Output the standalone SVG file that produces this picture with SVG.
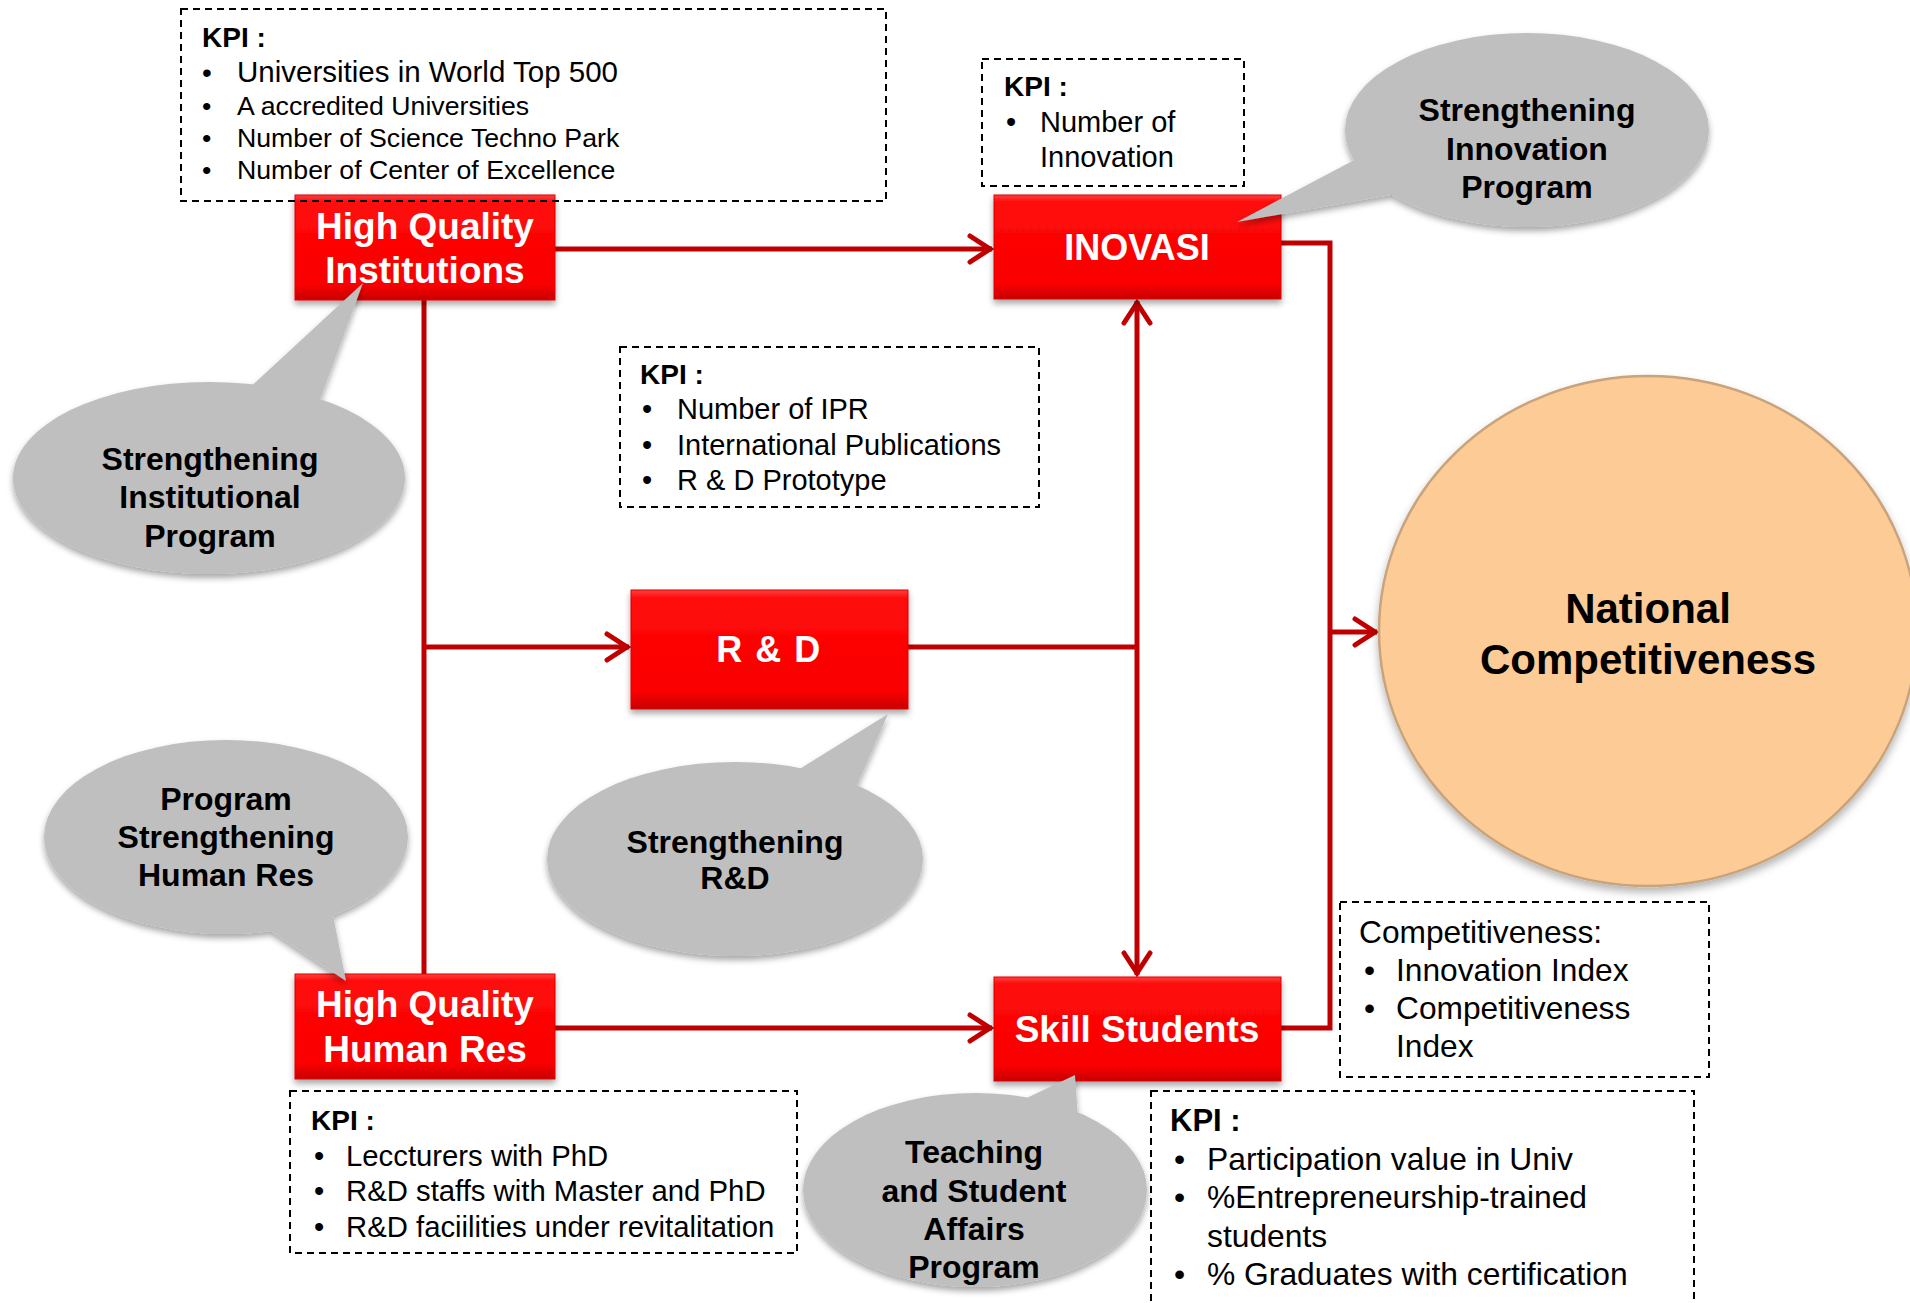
<svg xmlns="http://www.w3.org/2000/svg" width="1910" height="1303" viewBox="0 0 1910 1303">
<defs>
<style>
.kpi{fill:none;stroke:#000;stroke-width:2;stroke-dasharray:7 5}
.t{font-family:"Liberation Sans",Arial,sans-serif;fill:#000}
.b{font-weight:bold}
.bt{font-family:"Liberation Sans",Arial,sans-serif;font-weight:bold;fill:#fff;text-anchor:middle}
.bub{fill:#BFBFBF}
.bubt{font-family:"Liberation Sans",Arial,sans-serif;font-weight:bold;font-size:32px;fill:#000;text-anchor:middle}
.con{fill:none;stroke:#C00000;stroke-width:5}
.box{fill:url(#red);stroke:#E00000;stroke-width:1}
</style>
<linearGradient id="red" x1="0" y1="0" x2="0" y2="1">
<stop offset="0" stop-color="#FF4040"/>
<stop offset="0.07" stop-color="#FF0A0A"/>
<stop offset="0.85" stop-color="#FA0000"/>
<stop offset="1" stop-color="#C80000"/>
</linearGradient>
<filter id="sh" x="-20%" y="-20%" width="140%" height="150%">
<feDropShadow dx="0" dy="4" stdDeviation="3" flood-color="#000" flood-opacity="0.35"/>
</filter>
<filter id="sh2" x="-20%" y="-20%" width="140%" height="150%">
<feDropShadow dx="0" dy="5" stdDeviation="4" flood-color="#000" flood-opacity="0.3"/>
</filter>
<marker id="arr" viewBox="-26 -16 30 32" refX="0" refY="0" markerWidth="30" markerHeight="32" markerUnits="userSpaceOnUse" orient="auto-start-reverse">
<path d="M-22,-13 L-2,0 L-22,13" fill="none" stroke="#C00000" stroke-width="5" stroke-linecap="round"/>
</marker>
</defs>
<rect width="1910" height="1303" fill="#fff"/>

<g id="connectors">
<path class="con" d="M555 249 H992" marker-end="url(#arr)"/>
<path class="con" d="M1281 243 H1330 V1028 H1281"/>
<path class="con" d="M1330 632 H1377" marker-end="url(#arr)"/>
<path class="con" d="M424 300 V974"/>
<path class="con" d="M424 647 H629" marker-end="url(#arr)"/>
<path class="con" d="M908 647 H1137"/>
<path class="con" d="M1137 301 V975" marker-start="url(#arr)" marker-end="url(#arr)"/>
<path class="con" d="M555 1028 H992" marker-end="url(#arr)"/>
</g>

<g id="national-competitiveness">
<ellipse cx="1648" cy="631" rx="269" ry="255" fill="#FCCB96" stroke="#C9A37C" stroke-width="2.5" filter="url(#sh2)"/>
<text class="t b" x="1648" y="623" font-size="42" text-anchor="middle">National</text>
<text class="t b" x="1648" y="674" font-size="42" text-anchor="middle">Competitiveness</text>
</g>

<g id="hq-institutions">
<rect class="box" x="295" y="195" width="260" height="105" filter="url(#sh)"/>
<text class="bt" x="425" y="239" font-size="37">High Quality</text>
<text class="bt" x="425" y="283" font-size="37">Institutions</text>
</g>

<g id="inovasi">
<rect class="box" x="994" y="195" width="287" height="104" filter="url(#sh)"/>
<text class="bt" x="1137" y="260" font-size="36">INOVASI</text>
</g>

<g id="rnd">
<rect class="box" x="631" y="590" width="277" height="119" filter="url(#sh)"/>
<text class="bt" x="769" y="662" font-size="36" letter-spacing="1.5">R &amp; D</text>
</g>

<g id="hq-human-res">
<rect class="box" x="295" y="974" width="260" height="105" filter="url(#sh)"/>
<text class="bt" x="425" y="1017" font-size="37">High Quality</text>
<text class="bt" x="425" y="1062" font-size="37">Human Res</text>
</g>

<g id="skill-students">
<rect class="box" x="994" y="977" width="287" height="104" filter="url(#sh)"/>
<text class="bt" x="1137" y="1042" font-size="37">Skill Students</text>
</g>

<g id="kpi-institutions">
<rect class="kpi" x="181" y="9" width="705" height="192"/>
<text class="t b" x="202" y="47" font-size="28">KPI :</text>
<text class="t" x="202" y="82" font-size="28">•</text>
<text class="t" x="237" y="82" font-size="29.5">Universities in World Top 500</text>
<text class="t" x="202" y="115" font-size="26.7">•</text>
<text class="t" x="237" y="115" font-size="26.7">A accredited Universities</text>
<text class="t" x="202" y="147" font-size="26.7">•</text>
<text class="t" x="237" y="147" font-size="26.7">Number of Science Techno Park</text>
<text class="t" x="202" y="179" font-size="26.7">•</text>
<text class="t" x="237" y="179" font-size="26.7">Number of Center of Excellence</text>
</g>

<g id="kpi-inovasi">
<rect class="kpi" x="982" y="59" width="262" height="127"/>
<text class="t b" x="1004" y="96" font-size="28">KPI :</text>
<text class="t" x="1006" y="132" font-size="29">•</text>
<text class="t" x="1040" y="132" font-size="29">Number of</text>
<text class="t" x="1040" y="167" font-size="29">Innovation</text>
</g>

<g id="kpi-rnd">
<rect class="kpi" x="620" y="347" width="419" height="160"/>
<text class="t b" x="640" y="384" font-size="28">KPI :</text>
<text class="t" x="642" y="419" font-size="29">•</text>
<text class="t" x="677" y="419" font-size="29">Number of IPR</text>
<text class="t" x="642" y="455" font-size="29">•</text>
<text class="t" x="677" y="455" font-size="29">International Publications</text>
<text class="t" x="642" y="490" font-size="29">•</text>
<text class="t" x="677" y="490" font-size="29">R &amp; D Prototype</text>
</g>

<g id="kpi-human-res">
<rect class="kpi" x="290" y="1091" width="507" height="162"/>
<text class="t b" x="311" y="1130" font-size="28">KPI :</text>
<text class="t" x="314" y="1166" font-size="29.3">•</text>
<text class="t" x="346" y="1166" font-size="29.3">Leccturers with PhD</text>
<text class="t" x="314" y="1201" font-size="29.3">•</text>
<text class="t" x="346" y="1201" font-size="29.3">R&amp;D staffs with Master and PhD</text>
<text class="t" x="314" y="1237" font-size="29.3">•</text>
<text class="t" x="346" y="1237" font-size="29.3">R&amp;D faciilities under revitalitation</text>
</g>

<g id="competitiveness">
<rect class="kpi" x="1340" y="902" width="369" height="175"/>
<text class="t" x="1359" y="943" font-size="31.7">Competitiveness:</text>
<text class="t" x="1364" y="981" font-size="31.7">•</text>
<text class="t" x="1396" y="981" font-size="31.7">Innovation Index</text>
<text class="t" x="1364" y="1019" font-size="31.7">•</text>
<text class="t" x="1396" y="1019" font-size="31.7">Competitiveness</text>
<text class="t" x="1396" y="1057" font-size="31.7">Index</text>
</g>

<g id="kpi-skill">
<rect class="kpi" x="1151" y="1091" width="543" height="240"/>
<text class="t b" x="1170" y="1131" font-size="31">KPI :</text>
<text class="t" x="1174" y="1170" font-size="31.8">•</text>
<text class="t" x="1207" y="1170" font-size="31.8">Participation value in Univ</text>
<text class="t" x="1174" y="1208" font-size="31.8">•</text>
<text class="t" x="1207" y="1208" font-size="31.8">%Entrepreneurship-trained</text>
<text class="t" x="1207" y="1247" font-size="31.8">students</text>
<text class="t" x="1174" y="1285" font-size="31.8">•</text>
<text class="t" x="1207" y="1285" font-size="31.8">% Graduates with certification</text>
</g>

<g id="bubble-institutional">
<g filter="url(#sh)">
<ellipse class="bub" cx="209" cy="478" rx="196" ry="96"/>
<polygon class="bub" points="245,392 363,283 318,405 280,420"/>
</g>
<text class="bubt" x="210" y="470">Strengthening</text>
<text class="bubt" x="210" y="508">Institutional</text>
<text class="bubt" x="210" y="547">Program</text>
</g>

<g id="bubble-innovation">
<g filter="url(#sh)">
<ellipse class="bub" cx="1527" cy="130" rx="182" ry="97"/>
<polygon class="bub" points="1362,156 1237,222 1396,194 1420,150"/>
</g>
<text class="bubt" x="1527" y="121">Strengthening</text>
<text class="bubt" x="1527" y="160">Innovation</text>
<text class="bubt" x="1527" y="198">Program</text>
</g>

<g id="bubble-human-res">
<g filter="url(#sh)">
<ellipse class="bub" cx="226" cy="837" rx="182" ry="97"/>
<polygon class="bub" points="262,925 346,981 332,910 300,900"/>
</g>
<text class="bubt" x="226" y="810">Program</text>
<text class="bubt" x="226" y="848">Strengthening</text>
<text class="bubt" x="226" y="886">Human Res</text>
</g>

<g id="bubble-rnd">
<g filter="url(#sh)">
<ellipse class="bub" cx="735" cy="859" rx="188" ry="97"/>
<polygon class="bub" points="790,775 888,714 855,790 820,800"/>
</g>
<text class="bubt" x="735" y="853">Strengthening</text>
<text class="bubt" x="735" y="889">R&amp;D</text>
</g>

<g id="bubble-teaching">
<g filter="url(#sh)">
<ellipse class="bub" cx="975" cy="1190" rx="172" ry="97"/>
<polygon class="bub" points="1012,1105 1075,1075 1078,1118 1040,1130"/>
</g>
<text class="bubt" x="974" y="1163">Teaching</text>
<text class="bubt" x="974" y="1202">and Student</text>
<text class="bubt" x="974" y="1240">Affairs</text>
<text class="bubt" x="974" y="1278">Program</text>
</g>
</svg>
